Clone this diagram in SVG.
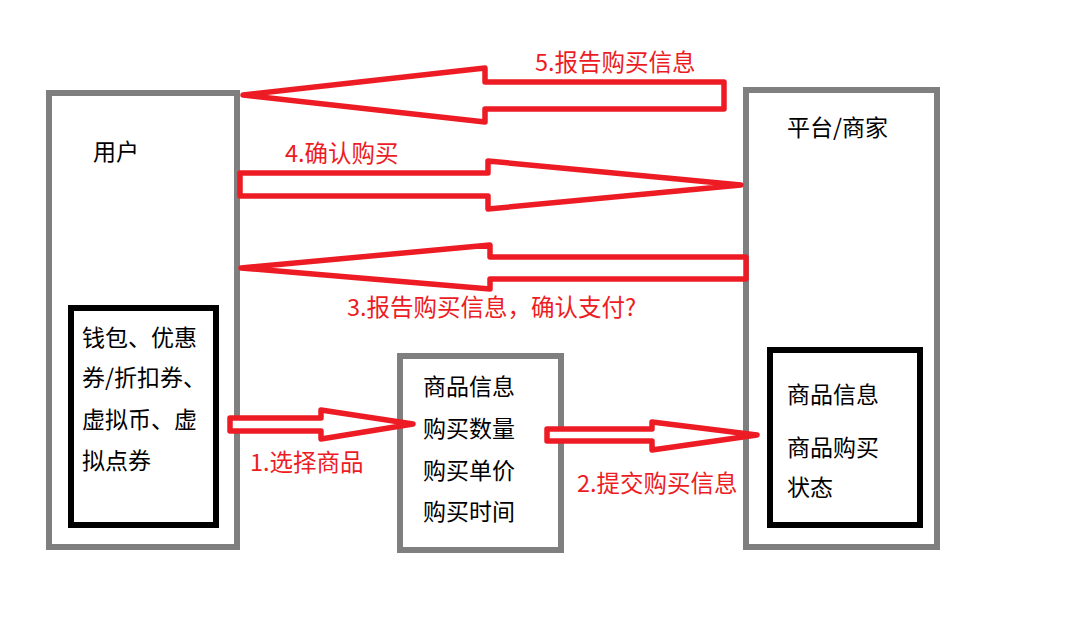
<svg xmlns="http://www.w3.org/2000/svg" width="1071" height="618" viewBox="0 0 1071 618">
<style>
.outer{fill:#fff;stroke:#7f7f7f;stroke-width:6}
.inner{fill:#fff;stroke:#000;stroke-width:6}
.arrow{fill:#fff;stroke:#ed1c24;stroke-width:5.5;stroke-linejoin:round}
.t{font-family:"Microsoft YaHei","Noto Sans CJK SC",sans-serif;font-size:23px;fill:#000}
.lbl{font-family:"Microsoft YaHei","Noto Sans CJK SC",sans-serif;font-size:23.5px;fill:#ed1c24}
</style>
<rect width="1071" height="618" fill="#fff"/>
<g id="user">
<rect class="outer" x="49" y="93" width="188" height="454"/>
<text class="t" x="93" y="160">用户</text>
</g>
<g id="wallet">
<rect class="inner" x="71" y="308" width="145" height="217"/>
<text class="t" x="82" y="346">钱包、优惠</text>
<text class="t" x="82" y="386">券/折扣券、</text>
<text class="t" x="82" y="428">虚拟币、虚</text>
<text class="t" x="82" y="469">拟点券</text>
</g>
<g id="order">
<rect class="outer" x="400" y="356" width="161" height="194"/>
<text class="t" x="423" y="395">商品信息</text>
<text class="t" x="423" y="437">购买数量</text>
<text class="t" x="423" y="479">购买单价</text>
<text class="t" x="423" y="520">购买时间</text>
</g>
<g id="platform">
<rect class="outer" x="746" y="90" width="191" height="457"/>
<text class="t" x="787" y="136">平台/商家</text>
</g>
<g id="goods">
<rect class="inner" x="770" y="350" width="150" height="175"/>
<text class="t" x="787" y="403">商品信息</text>
<text class="t" x="787" y="456">商品购买</text>
<text class="t" x="787" y="496">状态</text>
</g>
<g id="connectors">
<path class="arrow" d="M243,95 L485,68 L485,82 L724,82 L724,109 L485,109 L485,122 Z"/>
<path class="arrow" d="M240,173 L488,173 L488,161 L741,185 L488,209 L488,196 L240,196 Z"/>
<path class="arrow" d="M241,268 L490,245 L490,257 L746,257 L746,279 L490,279 L490,289 Z"/>
<path class="arrow" d="M230,418 L321,418 L321,410 L413,424 L321,439 L321,431 L230,431 Z"/>
<path class="arrow" d="M547,429 L652,429 L652,422 L757,435 L652,450 L652,441 L547,441 Z"/>
<text class="lbl" x="535" y="71">5.报告购买信息</text>
<text class="lbl" x="285" y="162">4.确认购买</text>
<text class="lbl" x="347" y="316">3.报告购买信息，确认支付?</text>
<text class="lbl" x="250" y="471">1.选择商品</text>
<text class="lbl" x="577" y="492">2.提交购买信息</text>
</g>
</svg>
